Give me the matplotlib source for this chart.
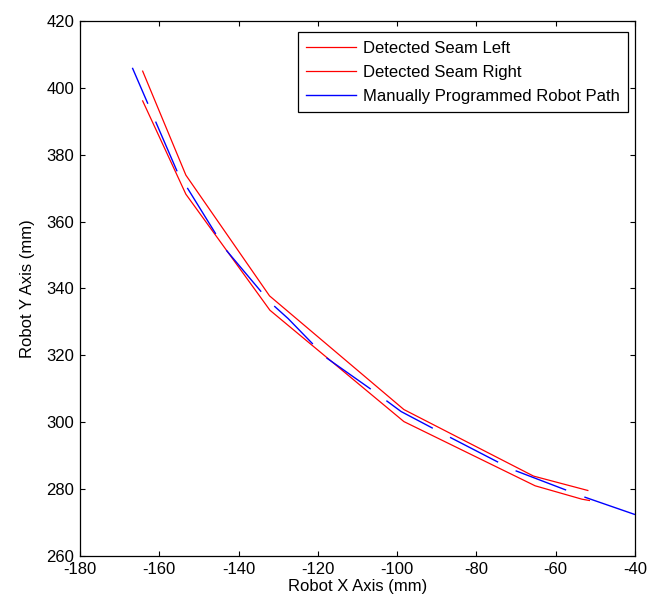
import matplotlib
matplotlib.use("Agg")
import matplotlib.pyplot as plt

plt.rcParams['font.family'] = ['Liberation Sans', 'DejaVu Sans']
plt.rcParams['axes.unicode_minus'] = False

# seam detected on the left edge
left_x = [-164.2, -153.3, -132.2, -98.3, -65.6, -51.9]
left_y = [405.0, 373.9, 337.8, 303.8, 283.9, 279.6]

# seam detected on the right edge
right_x = [-164.2, -153.3, -132.1, -98.3, -65.2, -53.4, -51.5]
right_y = [396.1, 368.2, 333.5, 300.2, 281.0, 277.0, 276.6]

# manually programmed robot path
path_x = [-166.8, -155.5, -143.5, -132.0, -127.5, -118.0, -107.0, -99.0, -87.0, -71.0, -58.0, -53.4, -40.0]
path_y = [406.0, 375.0, 352.0, 335.8, 331.0, 319.4, 310.2, 303.2, 295.7, 285.9, 280.0, 277.9, 272.4]

xticks = list(range(-180, -39, 20))
yticks = list(range(260, 421, 20))

fig = plt.figure(figsize=(6.56, 6.08), dpi=100)
ax = fig.add_axes([0.122, 0.0855, 0.846, 0.88])

ax.plot(left_x, left_y, color="#ff0000", lw=0.9, label="Detected Seam Left")
ax.plot(right_x, right_y, color="#ff0000", lw=0.9, label="Detected Seam Right")
ax.plot(path_x, path_y, color="#0000ff", lw=1.0, linestyle=(10.8, (39, 14)),
        label="Manually Programmed Robot Path")

ax.set_xlim(-180, -40)
ax.set_ylim(260, 420)
ax.set_xticks(xticks)
ax.set_yticks(yticks)
ax.tick_params(direction="in", top=True, right=True, length=3.6, width=0.8,
               labelsize=12, pad=4)
for s in ax.spines.values():
    s.set_linewidth(0.9)

ax.set_xlabel("Robot X Axis (mm)", fontsize=12, labelpad=2)
ax.set_ylabel("Robot Y Axis (mm)", fontsize=12, labelpad=8)

leg = ax.legend(loc="upper right", bbox_to_anchor=(0.987, 0.979), borderaxespad=0,
                fontsize=12, handlelength=3.0, handletextpad=0.4, labelspacing=0.55,
                fancybox=False, framealpha=1, edgecolor="black", borderpad=0.5)
leg.get_frame().set_linewidth(0.9)
leg.legend_handles[2].set_linestyle("-")

fig.savefig("out.png", dpi=100)
